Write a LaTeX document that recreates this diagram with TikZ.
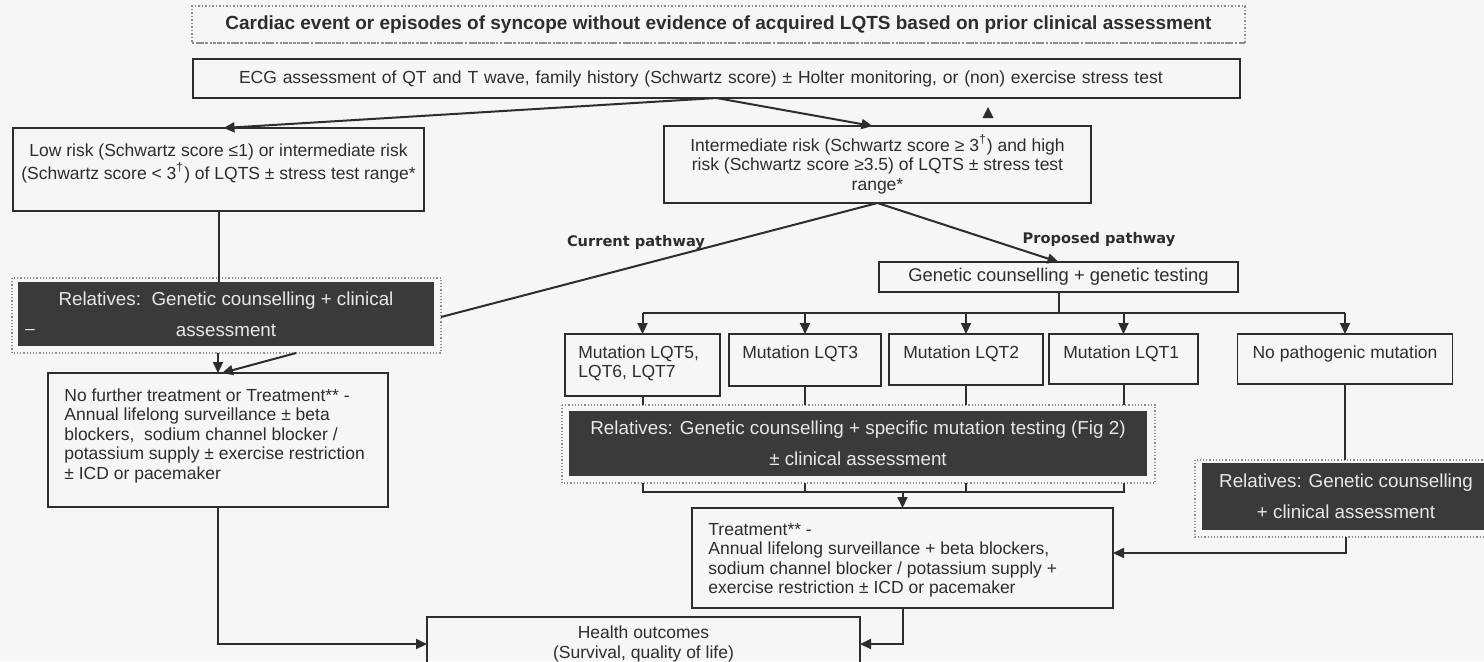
\documentclass[tikz,border=0pt]{standalone}
\usepackage{fontspec}
\setmainfont{Liberation Sans}
\newfontfamily\lblfont{DejaVu Sans}
\usetikzlibrary{arrows.meta,calc}
\definecolor{bgc}{RGB}{246,246,246}
\definecolor{ink}{RGB}{45,45,45}
\definecolor{darkfill}{RGB}{58,58,58}
\definecolor{revtext}{RGB}{232,232,232}
\definecolor{framec}{RGB}{140,140,140}
\newcommand{\fsbody}{\fontsize{8.75}{9.75}\selectfont}
\newcommand{\fsrel}{\fontsize{9.4}{15.5}\selectfont}
\newcommand{\fshead}{\fontsize{9.5}{11}\selectfont\bfseries}
\newcommand{\fslbl}{\lblfont\fontsize{7.3}{9}\selectfont\bfseries}
\begin{document}
\begin{tikzpicture}[x=0.5pt,y=-0.5pt,
  box/.style={draw=ink,line width=0.75pt,inner sep=0pt,outer sep=0pt,text=ink},
  darkbox/.style={fill=darkfill,draw=none,text=revtext,inner sep=0pt,outer sep=0pt,align=center,font=\fsrel},
  line/.style={draw=ink,line width=1pt},
  arr/.style={line,-{Triangle[length=5.5pt,width=5pt]}},
  txt/.style={inner sep=0pt,font=\fsbody,text=ink},
  frm/.style={draw=framec,densely dotted,line width=0.6pt}]
\useasboundingbox (0,0) rectangle (1484,661);
\clip (0,0) rectangle (1484,661);
\fill[bgc] (0,0) rectangle (1484,661);

% top boxes
\node[box,draw=framec,densely dotted,line width=0.6pt,minimum width=526.5pt,minimum height=18.5pt,font=\fshead] (top) at (718.5,24.5) {Cardiac event or episodes of syncope without evidence of acquired LQTS based on prior clinical assessment};
\draw[framec,line width=1.2pt,densely dotted] (top.south west) -- (top.south east);
\node[box,text width=477.5pt,inner xsep=23pt,minimum height=19.5pt,align=left,font=\fsbody] (ecg) at (716.5,78.5) {ECG assessment of QT and T wave, family history (Schwartz score) ± Holter monitoring, or (non) exercise stress test};

% risk boxes
\node[box,minimum width=205.5pt,minimum height=41.5pt] (low) at (218.5,169.5) {};
\node[txt,align=center] (lowT) at (218.5,163.5) {Low risk (Schwartz score ≤1) or intermediate risk\\(Schwartz score < 3\textsuperscript{†}) of LQTS ± stress test range*};
\node[box,minimum width=213.5pt,minimum height=38.5pt,align=center,font=\fsbody] (int) at (877.5,164.5) {Intermediate risk (Schwartz score ≥ 3\textsuperscript{†}) and high\\risk (Schwartz score ≥3.5) of LQTS ± stress test\\range*};
\fill[ink] (982.5,118) -- (993.5,118) -- (988,107) -- cycle;

% left branch
\node[darkbox,minimum width=208pt,minimum height=32pt] (relL) at (226,314) {Relatives:~~Genetic counselling + clinical\\assessment};
\draw[frm] ($(relL.north west)+(-6,-4)$) rectangle ($(relL.south east)+(7,7)$);
\node[inner sep=0pt,text=revtext,font=\fsbody] (dash) at (30,332) {–};
\node[box,minimum width=170pt,minimum height=67pt] (nof) at (218,440) {};
\node[txt,anchor=north west,align=left] (nofT) at (64,388) {No further treatment or Treatment** -\\Annual lifelong surveillance ± beta\\blockers,~ sodium channel blocker /\\potassium supply ± exercise restriction\\± ICD or pacemaker};

% pathway labels
\node[font=\fslbl,text=ink,inner sep=0pt] (cur) at (636,243) {Current pathway};
\node[font=\fslbl,text=ink,inner sep=0pt] (prop) at (1099,240) {Proposed pathway};

% genetic testing
\node[box,minimum width=179.5pt,minimum height=15pt,font=\fontsize{9.2}{11}\selectfont] (gen) at (1058.5,277) {Genetic counselling + genetic testing};

% mutation boxes
\node[box,minimum width=77.5pt,minimum height=31pt] (m5) at (642.5,365) {};
\node[box,minimum width=76pt,minimum height=26pt] (m3) at (805,360) {};
\node[box,minimum width=77pt,minimum height=25.5pt] (m2) at (966,359.5) {};
\node[box,minimum width=74.5pt,minimum height=25pt] (m1) at (1123.5,359) {};
\node[box,minimum width=107.5pt,minimum height=25pt] (np) at (1345,359) {};
\node[txt,anchor=north west,align=left] (m5T) at (578,345) {Mutation LQT5,\\LQT6, LQT7};
\node[txt,anchor=north west] (m3T) at (742,345) {Mutation LQT3};
\node[txt,anchor=north west] (m2T) at (903,345) {Mutation LQT2};
\node[txt,anchor=north west] (m1T) at (1063,345) {Mutation LQT1};
\node[txt,anchor=north] (npT) at (1345,345) {No pathogenic mutation};

% relatives boxes
\node[darkbox,minimum width=289pt,minimum height=32.5pt] (relM) at (858,443.5) {Relatives: Genetic counselling + specific mutation testing (Fig 2)\\± clinical assessment};
\draw[frm] ($(relM.north west)+(-7,-6)$) rectangle ($(relM.south east)+(8,7)$);
\node[darkbox,minimum width=144pt,minimum height=33.5pt] (relR) at (1346,496.5) {Relatives: Genetic counselling\\+ clinical assessment};
\draw[frm] ($(relR.north west)+(-7,-3)$) rectangle ($(relR.south east)+(7,7)$);

% treatment + outcomes
\node[box,minimum width=210.5pt,minimum height=50pt] (treat) at (902.5,558) {};
\node[txt,anchor=north west,align=left] (treatT) at (708,523) {Treatment** -\\Annual lifelong surveillance + beta blockers,\\sodium channel blocker / potassium supply +\\exercise restriction ± ICD or pacemaker};
\node[box,minimum width=216.5pt,minimum height=27pt,align=center,font=\fsbody] (health) at (643.5,644) {Health outcomes\\(Survival, quality of life)};

% connectors
\draw[arr] (ecg.south) -- ($(low.north)+(5,0)$);
\draw[arr] (ecg.south) -- ($(int.north)+(-5,0)$);
\draw[line] (low.south) -- (low.south |- relL.north);
\draw[line] (int.south) -- ($(relL.east)+(7,3)$);
\draw[arr] (int.south) -- (gen.north);
\draw[arr] ($(nof.north |- relL.south)+(0,7)$) -- (nof.north);
\draw[arr] ($(relL.south)+(70,7)$) -- ($(nof.north)+(4,0)$);
\draw[arr] (nof.south) |- (health.west);

\coordinate (busY) at (0,313);
\draw[line] (gen.south) -- (gen.south |- busY);
\draw[line] (m5.north |- busY) -- (np.north |- busY);
\foreach \m in {m5,m3,m2,m1,np} {\draw[arr] (\m.north |- busY) -- (\m.north);}
\foreach \m in {m5,m3,m2,m1} {\draw[line] (\m.south) -- ($(\m.south |- relM.north)+(0,-6)$);}
\draw[line] (np.south) -- ($(np.south |- relR.north)+(0,-3)$);

\coordinate (busB) at (0,492);
\draw[line] ($(m5.south |- relM.south)+(0,7)$) -- (m5.south |- busB) -- (m1.south |- busB) -- ($(m1.south |- relM.south)+(0,7)$);
\foreach \m in {m3,m2} {\draw[line] ($(\m.south |- relM.south)+(0,7)$) -- (\m.south |- busB);}
\draw[arr] (treat.north |- busB) -- (treat.north);
\draw[arr] ($(relR.south)+(0,7)$) |- ($(treat.east)+(0,-5)$);
\draw[arr] (treat.south) |- (health.east);
\end{tikzpicture}
\end{document}
